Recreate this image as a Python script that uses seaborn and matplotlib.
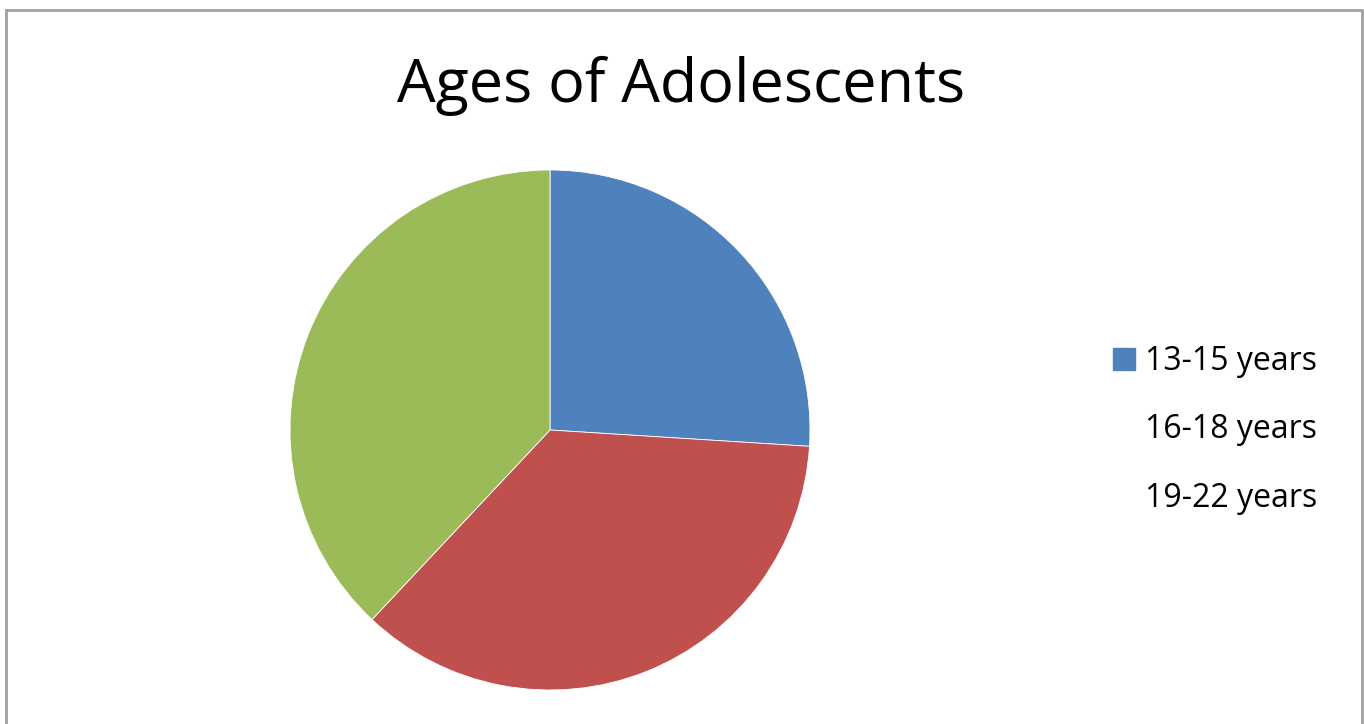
import matplotlib
matplotlib.use("Agg")
import matplotlib.pyplot as plt
import matplotlib.patches as mpatches
import seaborn as sns

categories = ["13-15 years", "16-18 years", "19-22 years"]
values = [26, 36, 38]
colors = ["#4F81BD", "#C0504D", "#9BBB59"]
title = "Ages of Adolescents"

sns.set_theme(style="white")
plt.rcParams['font.family'] = ['Open Sans', 'DejaVu Sans']

W, H = 1364, 724
fig = plt.figure(figsize=(W / 100, H / 100), dpi=100)
fig.patch.set_facecolor("white")

# outer frame
fig.add_artist(mpatches.Rectangle((6 / W, -0.05), (1362 - 6) / W, (H - 10) / H + 0.05,
                                  transform=fig.transFigure, fill=False,
                                  edgecolor="#A0A0A0", linewidth=2))

cx, cy, r = 550, 430, 260
ax = fig.add_axes([(cx - r) / W, (H - cy - r) / H, 2 * r / W, 2 * r / H])
ax.pie(values, colors=colors, startangle=90, counterclock=False,
       wedgeprops=dict(linewidth=0.6, edgecolor="white"))
ax.set_xlim(-1, 1)
ax.set_ylim(-1, 1)
ax.set_aspect("auto")
ax.axis("off")

fig.text(681 / W, 1 - 86 / H, title, ha="center", va="center", fontsize=44, color="black")

# legend (only the first marker is visible in the reference)
handles = [mpatches.Patch(facecolor=colors[0], edgecolor=colors[0]),
           mpatches.Patch(facecolor="white", edgecolor="white"),
           mpatches.Patch(facecolor="white", edgecolor="white")]
fig.legend(handles, categories, loc="center left", bbox_to_anchor=(1084 / W, 1 - 430 / H),
           frameon=False, fontsize=23, handlelength=0.7, handleheight=0.7,
           handletextpad=0.3, labelspacing=1.1, borderpad=0.4, labelcolor="black")

fig.savefig("out.png", dpi=100)
